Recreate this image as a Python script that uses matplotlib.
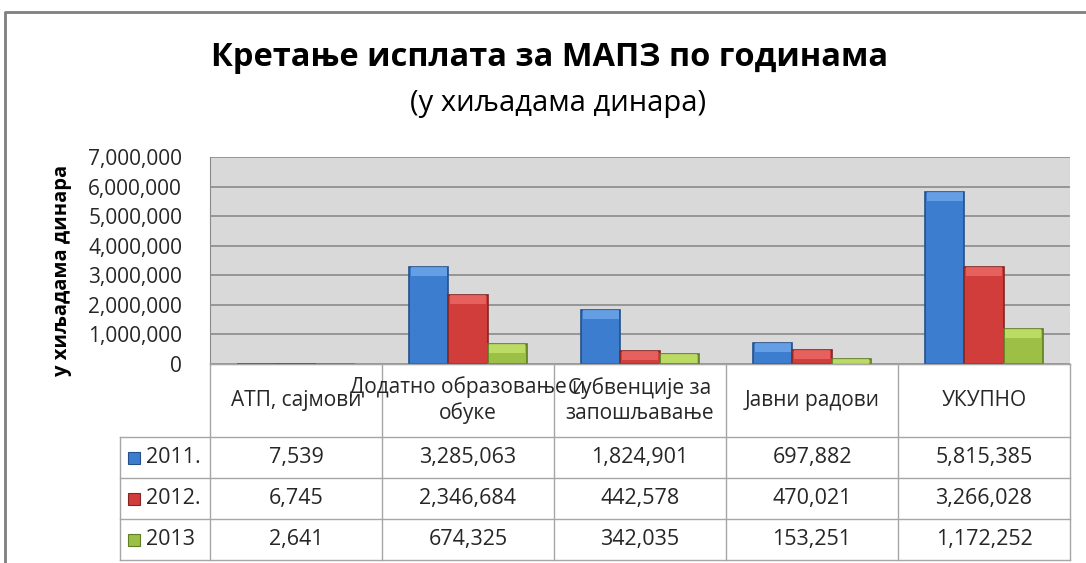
import numpy as np
import matplotlib.pyplot as plt
from matplotlib.lines import Line2D
from matplotlib.patches import Rectangle
import matplotlib.transforms as mtransforms

plt.rcParams['font.family'] = ['Open Sans', 'DejaVu Sans']

# data
categories = ["АТП, сајмови", "Додатно образовање и\nобуке", "Субвенције за\nзапошљавање",
              "Јавни радови", "УКУПНО"]
series_names = ["2011.", "2012.", "2013"]
vals_2011 = [7539, 3285063, 1824901, 697882, 5815385]
vals_2012 = [6745, 2346684, 442578, 470021, 3266028]
vals_2013 = [2641, 674325, 342035, 153251, 1172252]
yticks = [0, 1000000, 2000000, 3000000, 4000000, 5000000, 6000000, 7000000]

series = [vals_2011, vals_2012, vals_2013]
colors = ['#3d7dd0', '#d03d3a', '#9cc045']
lights = ['#6fa8ec', '#ec6a66', '#c4e26e']
edges = ['#23508c', '#832623', '#5f7d24']

W, H = 1086, 563
fig = plt.figure(figsize=(W / 100, H / 100), dpi=100)

def fy(py):
    return 1 - py / H

# plot area in pixels
px_l, px_r, px_t, px_b = 210, 1070, 157, 364
ax = fig.add_axes([px_l / W, fy(px_b), (px_r - px_l) / W, (px_b - px_t) / H])
ax.set_facecolor('#d9d9d9')

x = np.arange(len(categories))
bw = 0.227
ymax = 7000000
cap = ymax * 9 / (px_b - px_t)
for i, vals in enumerate(series):
    v = np.array(vals)
    xs = x + (i - 1) * bw
    ax.bar(xs, v, width=bw, color=colors[i], edgecolor=edges[i], linewidth=1.2, zorder=3)
    # bevel highlight on top
    ch = np.minimum(v, cap)
    ax.bar(xs, ch, bottom=v - ch, width=bw * 0.9, color=lights[i], linewidth=0,
           zorder=4, alpha=0.8)

ax.set_xlim(-0.5, len(categories) - 0.5)
ax.set_ylim(0, ymax)
ax.set_yticks(yticks)
ax.set_yticklabels([f"{v:,}" for v in yticks], fontsize=15, color='#262626')
ax.set_xticks([])
ax.tick_params(axis='y', length=0, pad=20)
ax.grid(axis='y', color='#8a8a8a', linewidth=1.2, zorder=0)
ax.set_axisbelow(True)
for s in ['top', 'right']:
    ax.spines[s].set_visible(False)
ax.spines['left'].set_color('#8a8a8a')
ax.spines['bottom'].set_color('#8a8a8a')

# y label
fig.text(62 / W, fy(270), "у хиљадама динара", rotation=90, ha='center', va='center',
         fontsize=14.5, fontweight='bold', color='#000000')

# title
fig.text(550 / W, fy(58), "Кретање исплата за МАПЗ по годинама", ha='center', va='center',
         fontsize=23.5, fontweight='bold', color='#000000')
fig.text(558 / W, fy(104), "(у хиљадама динара)", ha='center', va='center',
         fontsize=21, color='#000000')

# data table below plot
tr = mtransforms.blended_transform_factory(ax.transData, fig.transFigure)
line_c = '#a6a6a6'
head_b = 437
row_h = 41
row_edges = [head_b + k * row_h for k in range(len(series) + 1)]
lab_left = -1.023
ncat = len(categories)

# horizontal lines
fig.add_artist(Line2D([-0.5, ncat - 0.5], [fy(px_b), fy(px_b)], transform=tr, color=line_c, lw=1))
for yy in row_edges:
    fig.add_artist(Line2D([lab_left, ncat - 0.5], [fy(yy), fy(yy)], transform=tr, color=line_c, lw=1))
# vertical lines
for k in range(ncat + 1):
    fig.add_artist(Line2D([k - 0.5, k - 0.5], [fy(px_b), fy(row_edges[-1])], transform=tr,
                          color=line_c, lw=1))
fig.add_artist(Line2D([lab_left, lab_left], [fy(head_b), fy(row_edges[-1])], transform=tr,
                      color=line_c, lw=1))

# header labels
for k, c in enumerate(categories):
    fig.text(k, fy((px_b + head_b) / 2), c, transform=tr, ha='center', va='center',
             fontsize=15, color='#262626', linespacing=1.25)

# rows
for i, vals in enumerate(series):
    yc = fy(row_edges[i] + row_h / 2)
    for k, v in enumerate(vals):
        fig.text(k, yc, f"{v:,}", transform=tr, ha='center', va='center',
                 fontsize=15.5, color='#262626')
    fig.text(-0.872, yc, series_names[i], transform=tr, ha='left', va='center',
             fontsize=15.5, color='#262626')
    fig.add_artist(Rectangle((-0.977, yc - 6 / H), 12 / 172, 12 / H, transform=tr,
                             facecolor=colors[i], edgecolor=edges[i], lw=0.8))

# outer frame
fig.add_artist(Line2D([5 / W, 5 / W, 1.0], [0, fy(12), fy(12)], color='#7f7f7f', lw=2))

fig.savefig('out.png', dpi=100)
